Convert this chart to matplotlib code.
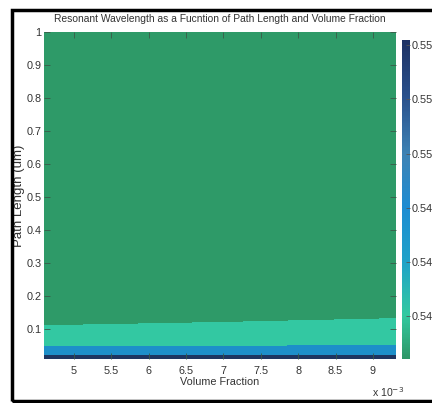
import numpy as np
import matplotlib
matplotlib.use("Agg")
from matplotlib import pyplot as plt
from matplotlib.colors import LinearSegmentedColormap, Normalize
from matplotlib.cm import ScalarMappable
from matplotlib.patches import Rectangle

plt.rcParams['font.family'] = ['Liberation Sans', 'DejaVu Sans']

# volume fraction (x) and path length (um, y) sample points
vol_frac = [4.6e-3, 7.0e-3, 9.3e-3]
path_len = [0.01, 0.02, 0.03, 0.05, 0.08, 0.12, 0.2, 0.4, 1.0]
# resonant wavelength, one row per path length
wl = [
    [0.5542, 0.5542, 0.5542],
    [0.5500, 0.5500, 0.5501],
    [0.5475, 0.5476, 0.5478],
    [0.5456, 0.5458, 0.5460],
    [0.5446, 0.5447, 0.5449],
    [0.5438, 0.5440, 0.5441],
    [0.5433, 0.5433, 0.5434],
    [0.5428, 0.5428, 0.5429],
    [0.5425, 0.5425, 0.5425],
]
levels = [0.5420, 0.5440, 0.5460, 0.5507, 0.5545]
band_colors = ['#2e9a68', '#33c8a2', '#1d8fc9', '#1e3560']

x_ticks = [5e-3, 5.5e-3, 6e-3, 6.5e-3, 7e-3, 7.5e-3, 8e-3, 8.5e-3, 9e-3]
x_labels = ['5', '5.5', '6', '6.5', '7', '7.5', '8', '8.5', '9']
y_ticks = [0.1, 0.2, 0.3, 0.4, 0.5, 0.6, 0.7, 0.8, 0.9, 1.0]
y_labels = ['0.1', '0.2', '0.3', '0.4', '0.5', '0.6', '0.7', '0.8', '0.9', '1']
cb_ticks = [0.544, 0.546, 0.548, 0.550, 0.552, 0.554]
cb_labels = ['0.544', '0.546', '0.548', '0.55', '0.552', '0.554']

# colorbar gradient
cb_vals = [0.5424, 0.5440, 0.5460, 0.5480, 0.5500, 0.5520, 0.5542]
cb_cols = ['#2e9666', '#33c9a0', '#1fa2c8', '#1e8cd2', '#3d82b4', '#2a528e', '#1e3264']

fig = plt.figure(figsize=(4.32, 4.03), dpi=100)
ax = fig.add_axes([0.102, 0.109, 0.815, 0.812])

X, Y = np.meshgrid(vol_frac, path_len)
ax.contourf(X, Y, np.array(wl), levels=levels, colors=band_colors)
ax.set_xlim(4.6e-3, 9.31e-3)
ax.set_ylim(0.009, 1.0)
for s in ax.spines.values():
    s.set_visible(False)

ax.set_xticks(x_ticks)
ax.set_xticklabels(x_labels)
ax.set_yticks(y_ticks)
ax.set_yticklabels(y_labels)
ax.tick_params(direction='in', length=4, width=0.6, color='#3a5a48',
               top=True, right=True, labelsize=7.8, labelcolor='#333333', pad=2)
ax.tick_params(axis='x', pad=5)

ax.set_title("Resonant Wavelength as a Fucntion of Path Length and Volume Fraction",
             fontsize=7.4, color='#333333', pad=7)
ax.set_xlabel("Volume Fraction", fontsize=7.8, color='#333333', labelpad=1)
ax.set_ylabel("Path Length (um)", fontsize=9.5, color='#333333')
ax.yaxis.set_label_coords(-0.055, 0.5)
fig.text(0.862, 0.016, "x 10$^{-3}$", fontsize=7.6, color='#333333')

# colorbar
cax = fig.add_axes([0.930, 0.109, 0.019, 0.792])
cmap = LinearSegmentedColormap.from_list(
    'rw', [((v - cb_vals[0]) / (cb_vals[-1] - cb_vals[0]), c) for v, c in zip(cb_vals, cb_cols)])
sm = ScalarMappable(norm=Normalize(cb_vals[0], cb_vals[-1]), cmap=cmap)
cb = fig.colorbar(sm, cax=cax)
cb.outline.set_visible(False)
cb.set_ticks(cb_ticks)
cb.set_ticklabels(cb_labels)
cax.tick_params(direction='in', length=3, width=0.6, color='#555555',
                labelsize=7.8, labelcolor='#333333', pad=1)

# black frame around the figure
fig.patches.append(Rectangle((12 / 432, 2 / 403), 1.2, 391 / 403, transform=fig.transFigure,
                             fill=False, edgecolor='black', linewidth=2.5))

fig.savefig("out.png", dpi=100)
